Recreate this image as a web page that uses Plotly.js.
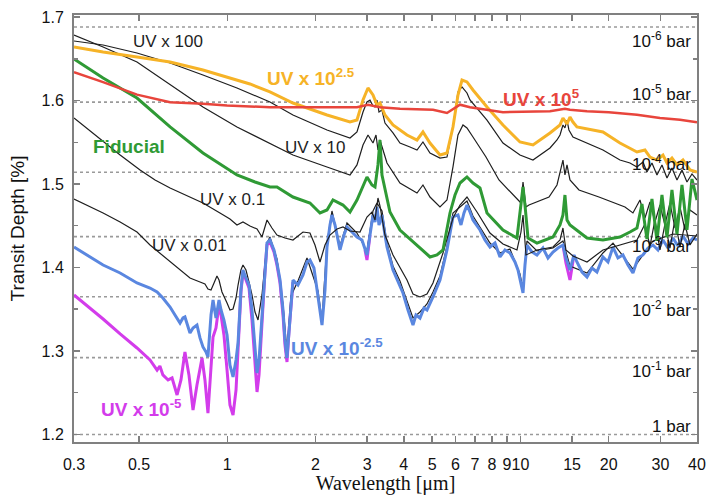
<!DOCTYPE html>
<html><head><meta charset="utf-8">
<script src="https://cdn.plot.ly/plotly-3.0.1.min.js"></script>
<style>html,body{margin:0;padding:0;background:#fff;}#chart{width:706px;height:495px;}</style>
</head><body><div id="chart"></div>
<script>
// ---------- data (wavelength in micron, transit depth in %) ----------
const wlRed=[0.3,0.377,0.492,0.638,0.826,0.998,1.398,1.991,2.769,3.019,3.317,3.881,5.03,5.614,6.218,6.726,8.715,12.61,14.18,14.75,16.86,20.0,24.96,29.91,34.99,40];
const tdRed=[1.634,1.622,1.607,1.598,1.596,1.594,1.592,1.592,1.592,1.595,1.592,1.590,1.589,1.585,1.595,1.592,1.586,1.587,1.590,1.589,1.587,1.586,1.583,1.579,1.577,1.574];

const wlOrange=[0.3,0.377,0.492,0.638,0.826,0.944,1.195,1.398,1.675,2.188,2.621,2.769,2.903,3.019,3.140,3.240,3.317,3.450,3.674,4.101,4.436,4.649,4.913,5.314,5.614,5.885,6.121,6.317,6.569,6.886,7.687,8.715,9.960,11.03,12.61,13.64,13.96,14.41,14.75,15.10,15.58,19.11,21.84,24.96,26.58,27.65,29.21,30.62,31.60,32.86,34.18,35.83,37.85,40];
const tdOrange=[1.6641,1.6581,1.6521,1.6461,1.6365,1.6305,1.6198,1.6102,1.5970,1.5826,1.5742,1.5766,1.6006,1.6150,1.6066,1.5946,1.5970,1.5826,1.5707,1.5587,1.5527,1.5623,1.5491,1.5347,1.5371,1.5683,1.6066,1.6245,1.6222,1.6126,1.5922,1.5707,1.5503,1.5467,1.5611,1.5707,1.5790,1.5719,1.5802,1.5742,1.5683,1.5623,1.5491,1.5383,1.5407,1.5323,1.5287,1.5347,1.5252,1.5311,1.5228,1.5287,1.5168,1.5144];

const wlUV100=[0.3,0.377,0.492,0.638,0.826,1.079,1.398,1.675,2.188,2.621,2.769,2.903,2.995,3.067,3.140,3.190,3.240,3.291,3.370,3.450,3.674,3.881,4.199,4.436,4.649,4.913,5.314,5.614,5.885,6.121,6.317,6.569,6.726,7.687,8.715,9.960,11.03,12.61,13.32,13.64,13.96,14.18,14.41,14.63,15.10,16.86,19.11,21.84,23.63,24.96,26.17,27.00,28.08,29.21,30.38,31.60,32.86,34.18,35.55,36.97,38.45,40];
const tdUV100=[1.6713,1.6665,1.6569,1.6449,1.6305,1.6150,1.5982,1.5826,1.5647,1.5551,1.5623,1.5862,1.5982,1.6006,1.5934,1.5922,1.6006,1.5862,1.5886,1.5730,1.5611,1.5491,1.5443,1.5407,1.5503,1.5371,1.5311,1.5323,1.5683,1.6102,1.6162,1.6090,1.6006,1.5766,1.5491,1.5347,1.5287,1.5431,1.5527,1.5587,1.5707,1.5671,1.5766,1.5647,1.5563,1.5491,1.5407,1.5287,1.5252,1.5204,1.5264,1.5144,1.5252,1.5108,1.5228,1.5072,1.5192,1.5048,1.5168,1.5024,1.5120,1.5048];

const wlUV10=[0.3,0.377,0.492,0.638,0.826,1.079,1.366,1.675,2.188,2.621,2.769,2.903,3.019,3.140,3.215,3.265,3.317,3.505,3.881,4.436,4.649,4.913,5.314,5.614,5.885,6.121,6.366,6.569,6.886,7.626,8.446,9.652,10.04,10.20,10.44,10.69,12.51,13.32,13.74,13.96,14.18,14.41,14.75,15.83,18.52,21.17,22.72,24.19,25.56,26.58,27.65,28.75,29.91,31.10,32.35,33.65,34.99,36.39,37.85,40];
const tdUV10=[1.6784,1.6641,1.6461,1.6186,1.5922,1.5683,1.5503,1.5347,1.5204,1.5108,1.5228,1.5467,1.5587,1.5491,1.5587,1.5407,1.5527,1.5252,1.5012,1.4892,1.4988,1.4844,1.4725,1.4808,1.5204,1.5587,1.5707,1.5671,1.5563,1.5323,1.5048,1.4844,1.4772,1.5024,1.4725,1.4748,1.4844,1.4988,1.5168,1.5287,1.5108,1.5228,1.5048,1.4928,1.4844,1.4772,1.4725,1.4653,1.4808,1.4593,1.4784,1.4545,1.4748,1.4509,1.4772,1.4473,1.4725,1.4449,1.4689,1.4629];

const wlFiducial=[0.3,0.377,0.492,0.638,0.826,1.079,1.243,1.398,1.477,1.675,1.914,2.071,2.188,2.293,2.481,2.621,2.769,2.903,2.995,3.115,3.190,3.265,3.317,3.370,3.450,3.588,3.881,4.436,4.913,5.190,5.441,5.748,5.979,6.218,6.569,6.886,7.275,7.687,8.715,9.728,10.04,10.20,10.36,10.61,11.38,12.91,13.64,13.96,14.18,14.41,14.75,16.86,19.11,21.84,23.63,24.96,25.96,27.00,28.08,29.21,30.38,31.60,32.86,34.18,35.55,36.97,38.45,40];
const tdFiducial=[1.6497,1.6269,1.6030,1.5683,1.5371,1.5108,1.5024,1.4964,1.4964,1.4844,1.4772,1.4653,1.4689,1.4808,1.4748,1.4665,1.4808,1.4988,1.5084,1.4988,1.4964,1.5228,1.5527,1.5108,1.4928,1.4665,1.4449,1.4269,1.4126,1.4150,1.4210,1.4653,1.4868,1.5012,1.5084,1.5012,1.4952,1.4653,1.4449,1.4353,1.4808,1.4964,1.4748,1.4353,1.4293,1.4365,1.4509,1.4629,1.4868,1.4569,1.4509,1.4353,1.4329,1.4365,1.4425,1.4473,1.4760,1.4340,1.4820,1.4320,1.4870,1.4360,1.4930,1.4400,1.4990,1.4450,1.5060,1.4808];

const wlUV01=[0.3,0.340,0.377,0.431,0.504,0.567,0.638,0.729,0.826,0.944,1.021,1.079,1.131,1.195,1.263,1.313,1.366,1.420,1.477,1.573,1.675,1.812,1.914,1.991,2.071,2.154,2.240,2.367,2.481,2.621,2.835,2.995,3.115,3.190,3.265,3.317,3.450,3.674,3.881,4.101,4.299,4.542,4.798,5.030,5.441,5.885,6.218,6.569,7.106,7.869,8.715,9.728,10.04,10.20,10.44,11.38,12.91,13.64,13.96,14.29,15.10,16.86,19.11,21.84,24.96,26.58,27.65,28.75,29.91,31.10,32.35,33.65,34.99,36.39,37.85,40];
const tdUV01=[1.5790,1.5635,1.5515,1.5347,1.5168,1.5048,1.4952,1.4856,1.4772,1.4653,1.4581,1.4509,1.4545,1.4497,1.4461,1.4365,1.4569,1.4473,1.4389,1.4353,1.4329,1.4425,1.4413,1.4269,1.4066,1.4269,1.4389,1.4461,1.4485,1.4437,1.4425,1.4605,1.4665,1.4569,1.4832,1.4737,1.4389,1.4150,1.3994,1.3850,1.3683,1.3647,1.3683,1.3814,1.4174,1.4593,1.4748,1.4844,1.4665,1.4413,1.4281,1.4210,1.4425,1.4629,1.4150,1.4210,1.4245,1.4329,1.4473,1.4210,1.4138,1.4066,1.4210,1.4269,1.4329,1.4521,1.4257,1.4569,1.4210,1.4521,1.4233,1.4581,1.4245,1.4521,1.4269,1.4401];

const wlUV001=[0.3,0.377,0.431,0.492,0.545,0.638,0.690,0.746,0.807,0.839,0.859,0.880,0.901,0.922,0.937,0.959,0.998,1.021,1.046,1.071,1.088,1.113,1.131,1.158,1.186,1.214,1.243,1.273,1.313,1.344,1.366,
 1.398,1.477,1.549,1.598,1.649,1.742,1.870,2.039,2.104,2.188,2.275,2.423,2.560,2.769,2.995,3.067,3.140,3.240,3.370,3.505,3.674,3.881,4.133,4.299,4.542,4.798,5.030,5.314,5.614,5.885,6.569,6.886,7.869,8.512,9.208,9.960,10.20,10.52,11.38,12.91,13.96,14.75,16.86,19.11,20.68,24.19,28.31,33.12,40];
const tdUV001=[1.4820,1.4653,1.4545,1.4425,1.4269,1.4066,1.3970,1.3874,1.3826,1.3802,1.3742,1.3731,1.3814,1.3898,1.3850,1.3707,1.3575,1.3491,1.3503,1.3635,1.3790,1.3970,1.4030,1.3970,1.3826,1.3671,1.3467,1.3371,1.3671,1.4090,1.4293,
 1.4365,1.4102,1.3551,1.2988,1.3659,1.3838,1.4114,1.3719,1.3371,1.4293,1.4677,1.4257,1.4533,1.4413,1.4198,1.4437,1.4677,1.4772,1.4677,1.4293,1.4018,1.3838,1.3551,1.3395,1.3467,1.3563,1.3707,1.3898,1.4257,1.4653,1.4796,1.4617,1.4293,1.4174,1.4222,1.3922,1.3742,1.4317,1.4198,1.4233,1.4317,1.4018,1.3934,1.4174,1.4293,1.3982,1.4317,1.4401,1.4377];

const wlBlue=[0.3,0.340,0.377,0.431,0.492,0.545,0.576,0.603,0.638,0.663,
 0.690,0.706,0.717,0.746,0.764,0.788,0.807,0.826,0.846,0.859,
 0.880,0.894,0.915,0.937,0.952,0.974,0.998,1.021,1.046,1.071,
 1.088,1.113,1.131,1.158,1.186,1.214,1.243,1.263,1.283,1.313,
 1.344,1.366,1.398,1.443,1.477,1.513,1.549,1.573,1.598,1.623,
 1.649,1.675,1.742,1.812,1.870,1.914,1.975,2.039,2.104,2.154,
 2.188,2.240,2.275,2.330,2.423,2.500,2.560,2.662,2.769,2.880,
 2.949,2.995,3.067,3.140,3.190,3.240,3.291,3.370,3.450,3.505,
 3.674,3.881,3.974,4.133,4.299,4.401,4.542,4.687,4.798,5.030,
 5.314,5.614,5.885,6.121,6.267,6.416,6.569,6.726,6.886,7.275,
 7.566,7.869,8.185,8.512,8.853,9.208,9.576,9.805,9.960,10.20,
 10.36,10.52,10.94,11.38,11.93,12.41,12.91,13.42,13.96,14.29,
 14.75,15.22,15.58,16.21,16.86,17.53,18.23,19.11,19.88,20.68,
 21.50,22.36,23.26,24.19,25.16,26.17,27.22,28.31,29.44,30.62,
 31.84,33.12,34.45,35.83,37.26,38.75,40];
const tdBlue=[1.4245,1.4126,1.4030,1.3934,1.3814,1.3754,1.3707,1.3635,1.3527,1.3431,
 1.3335,1.3395,1.3407,1.3216,1.3276,1.3311,1.3156,1.3048,1.2988,1.2928,
 1.3432,1.3611,1.3395,1.3611,1.3491,1.3371,1.3192,1.2832,1.2689,1.2892,
 1.3096,1.3731,1.3970,1.3874,1.3790,1.3491,1.3012,1.2737,1.2892,1.3371,
 1.3970,1.4294,1.4329,1.4210,1.4054,1.3850,1.3491,1.3132,1.2916,1.3251,
 1.3611,1.3850,1.3790,1.3910,1.4066,1.4090,1.3994,1.3671,1.3311,1.3731,
 1.4245,1.4509,1.4629,1.4509,1.4210,1.4389,1.4485,1.4425,1.4365,1.4329,
 1.4210,1.4150,1.4389,1.4629,1.4545,1.4725,1.4509,1.4629,1.4389,1.4245,
 1.3970,1.3790,1.3695,1.3491,1.3311,1.3431,1.3395,1.3515,1.3491,1.3647,
 1.3850,1.4210,1.4605,1.4629,1.4509,1.4653,1.4748,1.4665,1.4569,1.4449,
 1.4329,1.4245,1.4293,1.4126,1.4210,1.4174,1.4066,1.3970,1.3874,1.3695,
 1.4030,1.4269,1.4186,1.4150,1.4233,1.4114,1.4186,1.4233,1.4269,1.4114,
 1.3970,1.4150,1.4066,1.3946,1.3886,1.3994,1.3946,1.4126,1.4066,1.4245,
 1.4114,1.4150,1.4030,1.3934,1.4114,1.4150,1.4233,1.4269,1.4210,1.4329,
 1.4233,1.4353,1.4257,1.4377,1.4281,1.4353,1.4329];

const wlMagenta=[0.3,0.340,0.377,0.431,0.492,0.545,0.558,0.576,0.589,0.603,
 0.628,0.648,0.674,0.695,0.717,0.740,0.764,0.788,0.820,0.839,
 0.859,0.880,0.894,0.915,0.937,0.952,0.974,0.998,1.021,1.046,
 1.071,1.088,1.113,1.131,1.158,1.186,1.214,1.243,1.263,1.283,
 1.313,1.344,1.366,1.398,1.443,1.477,1.513,1.549,1.573,1.598,
 1.623,1.649,1.675,null,2.949,2.995,3.067,null,13.96,14.29,14.75,15.22];
const tdMagenta=[1.3671,1.3515,1.3383,1.3204,1.3036,1.2892,1.2844,1.2772,1.2820,1.2713,
 1.2653,1.2677,1.2473,1.2653,1.2988,1.2713,1.2293,1.2593,1.2916,1.2653,
 1.2257,1.2772,1.3168,1.3276,1.3551,1.3431,1.3192,1.2772,1.2353,1.2233,
 1.2533,1.3012,1.3707,1.3946,1.3850,1.3754,1.3371,1.2772,1.2509,1.2713,
 1.3347,1.3946,1.4269,1.4305,1.4186,1.4030,1.3814,1.3431,1.3072,1.2868,
 1.3228,1.3587,1.3826,null,1.4210,1.4090,1.4389,null,1.4269,1.4054,1.3850,1.4150];

const pressureLevels=[1.688,1.598,1.514,1.437,1.365,1.292,1.200];
const pressureLabels=['10<sup>-6</sup> bar','10<sup>-5</sup> bar','10<sup>-4</sup> bar','10<sup>-3</sup> bar','10<sup>-2</sup> bar','10<sup>-1</sup> bar','1 bar'];
const xTickVals=[0.3,0.5,1,2,3,4,5,6,7,8,9,10,15,20,30,40];
const xTickText=['0.3','0.5','1','2','3','4','5','6','7','8','9','10','15','20','30','40'];

// ---------- styling ----------
const SANS='"Liberation Sans", Arial, Helvetica, sans-serif';
const C={red:'#e8453c',orange:'#f6b327',green:'#2f9a35',blue:'#5a87e0',magenta:'#d33ceb',black:'#1e1e1e'};
const labelShift=[-13,9,9,-8,-12,-12,8];

function line(x,y,color,width){return {x:x,y:y,type:'scatter',mode:'lines',line:{color:color,width:width},hoverinfo:'skip',showlegend:false};}

const traces=[
  line(wlMagenta,tdMagenta,C.magenta,3),
  line(wlUV001,tdUV001,C.black,1.2),
  line(wlBlue,tdBlue,C.blue,3),
  line(wlUV01,tdUV01,C.black,1.2),
  line(wlUV10,tdUV10,C.black,1.2),
  line(wlUV100,tdUV100,C.black,1.2),
  line(wlFiducial,tdFiducial,C.green,3),
  line(wlOrange,tdOrange,C.orange,3),
  line(wlRed,tdRed,C.red,2.5)
];

const shapes=pressureLevels.map(v=>({type:'line',xref:'paper',x0:0,x1:1,yref:'y',y0:v,y1:v,layer:'below',line:{color:'#9a9a9a',width:1.6,dash:'dot'}}));

function lab(text,xp,yp,color,size,bold){
  return {text:bold?'<b>'+text+'</b>':text,xref:'paper',yref:'paper',x:xp,y:yp,xanchor:'center',yanchor:'middle',showarrow:false,font:{family:SANS,size:size,color:color}};
}
const annotations=[
  lab('UV x 100',0.151,0.937,C.black,17,false),
  lab('UV x 10<sup>2.5</sup>',0.380,0.855,C.orange,19,true),
  lab('UV x 10<sup>5</sup>',0.751,0.806,C.red,19,true),
  lab('UV x 10',0.387,0.689,C.black,17,false),
  lab('Fiducial',0.088,0.693,C.green,19,true),
  lab('UV x 0.1',0.254,0.567,C.black,17,false),
  lab('UV x 0.01',0.185,0.461,C.black,17,false),
  lab('UV x 10<sup>-2.5</sup>',0.422,0.222,C.blue,19,true),
  lab('UV x 10<sup>-5</sup>',0.109,0.080,C.magenta,19,true)
];
pressureLevels.forEach((v,i)=>{
  annotations.push({text:pressureLabels[i],xref:'paper',yref:'y',x:0.9936,y:v,xanchor:'right',yanchor:'middle',yshift:labelShift[i],showarrow:false,font:{family:SANS,size:17,color:'#111'}});
});

const layout={
  width:706,height:495,
  margin:{l:74,r:9,t:15,b:53,pad:0},
  paper_bgcolor:'#fff',plot_bgcolor:'#fff',
  showlegend:false,
  xaxis:{type:'log',range:[Math.log10(0.3),Math.log10(40)],tickvals:xTickVals,ticktext:xTickText,tickangle:0,
    ticks:'inside',ticklen:6,tickwidth:1.5,tickcolor:'#808080',showline:true,linecolor:'#808080',linewidth:2,mirror:'ticks',
    showgrid:false,zeroline:false,tickfont:{family:SANS,size:16,color:'#111'},ticklabelstandoff:7,
    title:{text:'Wavelength [μm]',font:{family:'"Liberation Serif","Times New Roman",serif',size:20,color:'#111'},standoff:14},automargin:false},
  yaxis:{range:[1.191,1.7024],tick0:1.2,dtick:0.1,tickformat:'.1f',
    ticks:'inside',ticklen:6,tickwidth:1.5,tickcolor:'#808080',showline:true,linecolor:'#808080',linewidth:2,mirror:'ticks',
    minor:{dtick:0.05,ticks:'inside',ticklen:4,tickwidth:1.5,tickcolor:'#808080',showgrid:false},
    showgrid:false,zeroline:false,tickfont:{family:SANS,size:16,color:'#111'},ticklabelstandoff:5,
    title:{text:'Transit Depth [%]',font:{family:SANS,size:19,color:'#111'},standoff:12},automargin:false},
  shapes:shapes,
  annotations:annotations
};
Plotly.newPlot('chart',traces,layout,{staticPlot:true,displayModeBar:false});
</script>
</body></html>
